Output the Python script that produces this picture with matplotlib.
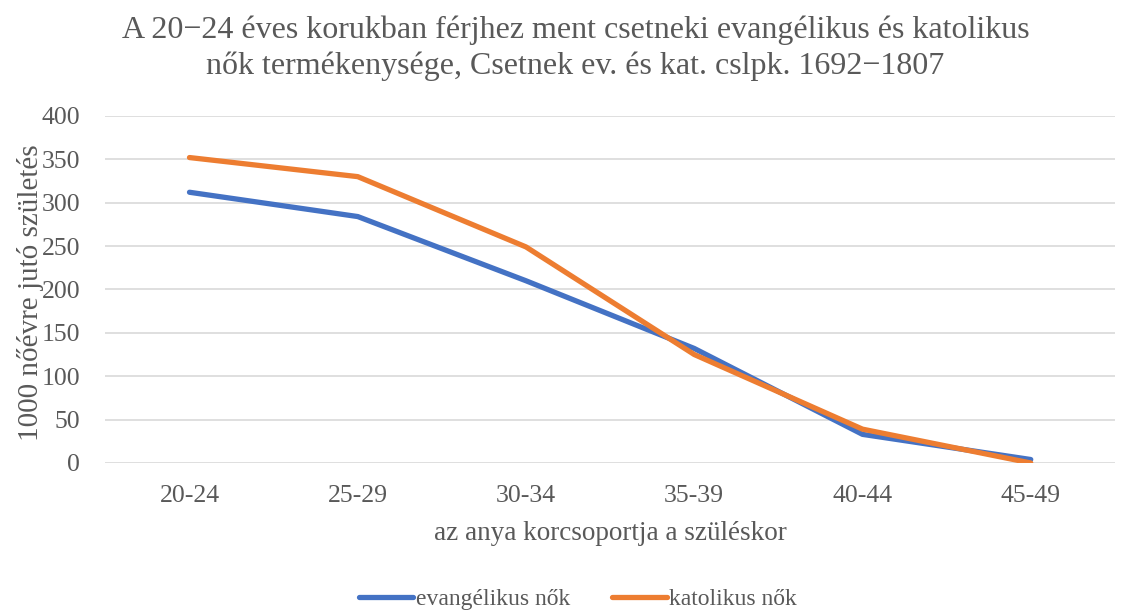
import matplotlib
matplotlib.use("Agg")
import matplotlib.pyplot as plt

plt.rcParams['font.family'] = ['Liberation Serif', 'DejaVu Serif']

korcsoport = ["20-24", "25-29", "30-34", "35-39", "40-44", "45-49"]
evangelikus = [312, 284, 210, 132, 33, 4]
katolikus = [352, 330, 249, 125, 39, 0]

szurke = "#595959"

fig = plt.figure(figsize=(11.33, 6.1), dpi=100)
ax = fig.add_axes([0.093, 0.241, 0.891, 0.569])

x = range(len(korcsoport))
ax.plot(x, evangelikus, color="#4472C4", lw=3.8, solid_capstyle="round",
        solid_joinstyle="round", label="evangélikus nők", zorder=3)
ax.plot(x, katolikus, color="#ED7D31", lw=3.8, solid_capstyle="round",
        solid_joinstyle="round", label="katolikus nők", zorder=4)

ax.set_xlim(-0.5, len(korcsoport) - 0.5)
ax.set_ylim(0, 400)
ax.set_yticks(range(0, 401, 50))
ax.set_xticks(list(x))
ax.set_xticklabels(korcsoport)
ax.grid(axis="y", color="#D9D9D9", lw=1.2)
ax.set_axisbelow(True)
for s in ax.spines.values():
    s.set_visible(False)
ax.tick_params(axis="both", length=0, labelsize=18.5, colors=szurke)
ax.tick_params(axis="y", pad=18)
ax.tick_params(axis="x", pad=16)

ax.set_xlabel("az anya korcsoportja a szüléskor", fontsize=19.5, color=szurke, labelpad=10)
ax.set_ylabel("1000 nőévre jutó születés", fontsize=21, color=szurke)
ax.yaxis.set_label_coords(-0.061, 0.49)

fig.text(0.508, 0.921, "A 20−24 éves korukban férjhez ment csetneki evangélikus és katolikus\n"
         "nők termékenysége, Csetnek ev. és kat. cslpk. 1692−1807",
         ha="center", va="center", fontsize=23, color=szurke, linespacing=1.28)

fig.legend(loc="center", bbox_to_anchor=(0.51, 0.018), ncol=2, frameon=False,
           fontsize=17, labelcolor=szurke, handlelength=2.3, handletextpad=0.1,
           columnspacing=1.8)

fig.savefig("out.png", dpi=100)
